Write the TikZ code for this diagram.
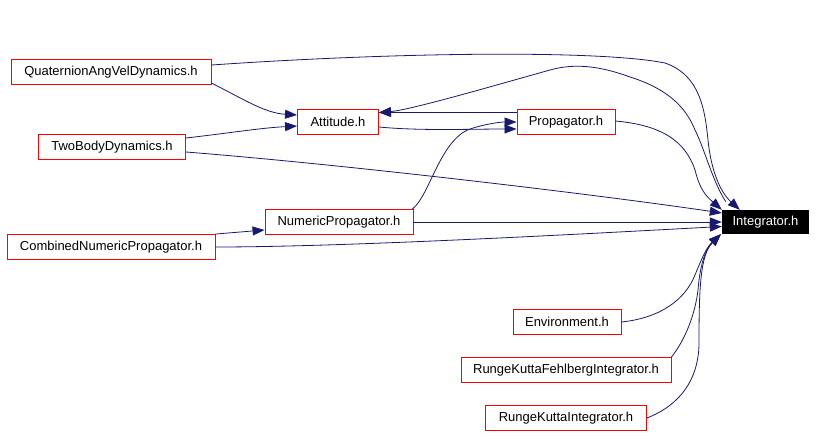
\documentclass[tikz,border=0pt]{standalone}
\usepackage{fontspec}
\setmainfont{Liberation Sans}
\usetikzlibrary{arrows.meta,calc}
\definecolor{edgecol}{HTML}{191970}
\tikzset{
  box/.style={draw=red, line width=0.9pt, fill=white, rectangle, inner sep=0pt,
    minimum height=25pt, font=\fontsize{13}{15}\selectfont, text=black},
  rootbox/.style={fill=black, rectangle, inner sep=0pt, minimum height=24pt,
    font=\fontsize{13}{15}\selectfont, text=white},
  edge/.style={draw=edgecol, line width=0.8pt, -{Triangle[length=12pt,width=9pt]}},
}
\begin{document}
\begin{tikzpicture}[x=1pt,y=-1pt]
\useasboundingbox (0,0) rectangle (817,436);
% nodes
\node[box, minimum width=200pt] (quat) at (111,72) {QuaternionAngVelDynamics.h};
\node[box, minimum width=81pt] (att) at (338,122) {Attitude.h};
\node[box, minimum width=147pt] (two) at (112,147) {TwoBodyDynamics.h};
\node[box, minimum width=98pt] (prop) at (566,122) {Propagator.h};
\node[box, minimum width=148pt] (nump) at (339,222) {NumericPropagator.h};
\node[box, minimum width=208pt] (comb) at (111,247) {CombinedNumericPropagator.h};
\node[rootbox, minimum width=87pt] (integ) at (765.5,222) {Integrator.h};
\node[box, minimum width=108pt] (env) at (567,322) {Environment.h};
\node[box, minimum width=210pt] (rkf) at (566,370) {RungeKuttaFehlbergIntegrator.h};
\node[box, minimum width=161pt] (rk) at (566,418) {RungeKuttaIntegrator.h};
% edges
\draw[edge] ($(quat.east)+(0,11)$) .. controls (245,100) and (265,113) .. ($(att.west)+(0,-7)$);
\draw[edge] ($(quat.east)+(0,-7)$) .. controls (400,52) and (600,50) .. (665,63)
   .. controls (700,75) and (705,110) .. (708,140)
   .. controls (711,170) and (720,192) .. ($(integ.north west)+(18,0)$);
\draw[edge] ($(integ.north west)+(4,-8)$) .. controls (712,180) and (705,150) .. (695,130)
   .. controls (685,105) and (665,88) .. (630,77)
   .. controls (600,66) and (575,63) .. (550,70)
   .. controls (490,86.8) and (410,110) .. ($(att.east)+(0,-9.5)$);
\draw[edge] ($(prop.west)+(0,-9.5)$) -- ($(att.east)+(0,-9.5)$);
\draw[edge] ($(att.east)+(0,5)$) .. controls (420,131) and (470,129) .. ($(prop.west)+(0,7)$);
\draw[edge] ($(two.east)+(0,-9)$) .. controls (230,133) and (260,128) .. ($(att.west)+(0,4)$);
\draw[edge] ($(two.east)+(0,5)$) .. controls (350,165) and (600,195) .. ($(integ.west)+(0,-9)$);
\draw[edge] (nump.east) -- (integ.west);
\draw[edge] (comb.east) .. controls (350,247) and (600,233) .. ($(integ.west)+(0,4.5)$);
\draw[edge] (comb.north east) -- ($(nump.west)+(0,8)$);
\draw[edge] ($(nump.north east)+(-1,0)$) .. controls (430,195) and (440,140) .. (470,129)
   .. controls (485,124) and (500,122) .. (prop.west);
\draw[edge] ($(prop.east)+(0,-1)$) .. controls (660,125) and (685,140) .. (695,170)
   .. controls (700,190) and (706,196) .. (integ.north west);
\draw[edge] (env.east) .. controls (660,318) and (685,300) .. (695,275)
   .. controls (702,258) and (706,248) .. ($(integ.south west)+(-1,0)$);
\draw[edge] (rkf.north east) .. controls (685,340) and (695,315) .. (698,290)
   .. controls (700,265) and (705,250) .. ($(integ.south west)+(-1,0)$);
\draw[edge] (rk.east) .. controls (680,405) and (698,380) .. (699,345)
   .. controls (699,290) and (700,255) .. ($(integ.south west)+(-1,0)$);
\end{tikzpicture}
\end{document}
